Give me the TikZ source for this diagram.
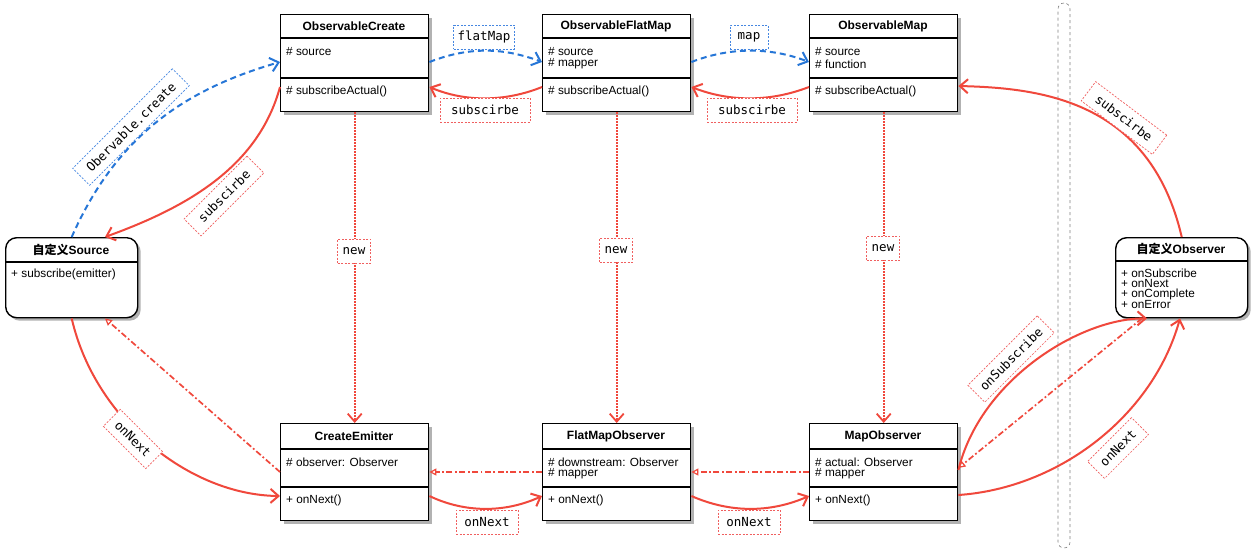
\documentclass[tikz,border=0pt]{standalone}
\usepackage{fontspec}
\setmainfont{Liberation Sans}
\setmonofont{DejaVu Sans Mono}
\newfontfamily\cjk{Noto Sans CJK SC}
\usetikzlibrary{arrows.meta,shadows}
\definecolor{ered}{RGB}{240,72,60}
\definecolor{eblue}{RGB}{38,118,215}
\definecolor{lred}{RGB}{240,95,95}
\definecolor{lblue}{RGB}{70,135,225}
\begin{document}
\begin{tikzpicture}[x=1pt,y=-1pt,
  >={Straight Barb[length=8pt,width=14pt]},
  cls/.style={draw=black, line width=1.4pt, fill=white, anchor=north west,
    minimum width=148pt, minimum height=97pt, inner sep=0pt,
    drop shadow={shadow xshift=3pt,shadow yshift=-3pt,fill=black,opacity=0.3}},
  rcls/.style={cls, rounded corners=11pt, minimum width=132pt, minimum height=80pt},
  ttl/.style={font=\fontsize{12}{13}\selectfont\bfseries, inner sep=0pt},
  txt/.style={font=\fontsize{11.8}{13}\selectfont, anchor=west, inner sep=0pt},
  hd/.style={line width=1.2pt},
  lbl/.style={font=\fontsize{12.5}{14}\selectfont\ttfamily, draw=lred, line width=0.7pt,
    dash pattern=on 2pt off 1.5pt, fill=white, inner xsep=4pt, inner ysep=0pt,
    minimum height=24pt},
  blbl/.style={lbl, draw=lblue},
  rline/.style={draw=ered, line width=2pt, ->},
  bline/.style={draw=eblue, line width=2pt, dash pattern=on 6pt off 4pt, ->},
  dotl/.style={draw=ered, line width=1.8pt, dash pattern=on 1.5pt off 1.5pt, ->},
  ddl/.style={draw=ered, line width=1.7pt, dash pattern=on 6pt off 2.5pt on 1.8pt off 2.5pt,
    -{Triangle[length=7pt,width=7pt,fill=white,line width=1.2pt]}},
]
\fill[white] (0,0) rectangle (1260,550);
\useasboundingbox (0,0) rectangle (1260,550);

% separator
\node[draw=gray, dashed, line width=0.6pt, rounded corners=6pt, minimum width=12pt,
  minimum height=545pt, inner sep=0pt] (sep) at (1064,275.5) {};

% class boxes
\node[cls] (oc) at (280,14) {};
\node[cls] (ofm) at (542,14) {};
\node[cls] (om) at (809,14) {};
\node[cls] (ce) at (280,423) {};
\node[cls] (fmo) at (542,423) {};
\node[cls] (mo) at (809,423) {};
\node[rcls] (src) at (5,237) {};
\node[rcls] (obs) at (1115,237) {};

\foreach \b in {oc,ofm,om}{
  \draw[hd] (\b.west |- 0,38) -- (\b.east |- 0,38);
  \draw[hd] (\b.west |- 0,78) -- (\b.east |- 0,78);
}
\foreach \b in {ce,fmo,mo}{
  \draw[hd] (\b.west |- 0,449) -- (\b.east |- 0,449);
  \draw[hd] (\b.west |- 0,487) -- (\b.east |- 0,487);
}
\draw[hd] (src.west |- 0,262) -- (src.east |- 0,262);
\draw[hd] (obs.west |- 0,261) -- (obs.east |- 0,261);

% titles
\node[ttl] (toc) at (354,26.5) {ObservableCreate};
\node[ttl] (tofm) at (616,26.5) {ObservableFlatMap};
\node[ttl] (tom) at (883,26.5) {ObservableMap};
\node[ttl] (tce) at (354,436.5) {CreateEmitter};
\node[ttl] (tfmo) at (616,436.5) {FlatMapObserver};
\node[ttl] (tmo) at (883,436.5) {MapObserver};
\node[ttl] (tsrc) at (71,250) {{\cjk 自定义}Source};
\node[ttl] (tobs) at (1181,249) {{\cjk 自定义}Observer};

% body texts
\node[txt] (oc1) at (286,52) {\# source};
\node[txt] (oc2) at (286,91) {\# subscribeActual()};
\node[txt] (ofm1) at (548,52) {\# source};
\node[txt] (ofm2) at (548,64) {\# mapper};
\node[txt] (ofm3) at (548,91) {\# subscribeActual()};
\node[txt] (om1) at (815,52) {\# source};
\node[txt] (om2) at (815,64) {\# function};
\node[txt] (om3) at (815,91) {\# subscribeActual()};
\node[txt] (ce1) at (286,462) {\# observer: Observer};
\node[txt] (ce2) at (286,500) {+ onNext()};
\node[txt] (fmo1) at (548,462) {\# downstream: Observer};
\node[txt] (fmo2) at (548,474) {\# mapper};
\node[txt] (fmo3) at (548,500) {+ onNext()};
\node[txt] (mo1) at (815,462) {\# actual: Observer};
\node[txt] (mo2) at (815,474) {\# mapper};
\node[txt] (mo3) at (815,500) {+ onNext()};
\node[txt] (src1) at (11,274) {+ subscribe(emitter)};
\node[txt] (obs1) at (1121,273) {+ onSubscribe};
\node[txt] (obs2) at (1121,283.5) {+ onNext};
\node[txt] (obs3) at (1121,294) {+ onComplete};
\node[txt] (obs4) at (1121,304.5) {+ onError};

% connectors top
\draw[bline] (src.north) .. controls (116,137) and (183,90) .. (oc.west |- 0,62);
\draw[rline] (oc.west |- 0,87) .. controls (258,168) and (185,208) .. (105,0 |- src.north);
\draw[bline] (oc.east |- 0,62) .. controls (468,47) and (502,47) .. (ofm.west |- 0,62);
\draw[rline] (ofm.west |- 0,87) .. controls (505,102) and (465,102) .. (oc.east |- 0,87);
\draw[bline] (ofm.east |- 0,62) .. controls (730,47) and (770,47) .. (om.west |- 0,62);
\draw[rline] (om.west |- 0,87) .. controls (770,102) and (730,102) .. (ofm.east |- 0,87);
\draw[rline] (obs.north) .. controls (1150,100) and (1040,88) .. (om.east |- 0,86);

% new
\draw[dotl] (oc.south) -- (ce.north);
\draw[dotl] (ofm.south) -- (fmo.north);
\draw[dotl] (om.south) -- (mo.north);

% bottom
\draw[rline] (src.south) .. controls (95,420) and (190,495) .. (ce.west |- 0,496);
\draw[ddl] (ce.west |- 0,472) -- (105,0 |- src.south);
\draw[ddl] (fmo.west |- 0,472) -- (ce.east |- 0,472);
\draw[ddl] (mo.west |- 0,472) -- (fmo.east |- 0,472);
\draw[rline] (ce.east |- 0,496) .. controls (465,513) and (505,513) .. (fmo.west |- 0,496);
\draw[rline] (fmo.east |- 0,496) .. controls (730,513) and (770,513) .. (mo.west |- 0,496);
\draw[rline] (mo.east |- 0,470) .. controls (980,380) and (1080,318) .. (1147,0 |- obs.south);
\draw[ddl] (1142,0 |- obs.south) -- (mo.east |- 0,468);
\draw[rline] (mo.east |- 0,495) .. controls (1060,488) and (1153,415) .. (1180,0 |- obs.south);

% labels
\node[blbl] (lfm) at (484,37) {flatMap};
\node[blbl, minimum width=38pt] (lmap) at (749,37) {map};
\node[lbl, minimum width=90pt] (ls1) at (485,110) {subscirbe};
\node[lbl, minimum width=90pt] (ls2) at (752,110) {subscirbe};
\node[lbl, minimum width=33pt] (ln1) at (354,251) {new};
\node[lbl, minimum width=33pt] (ln2) at (616,250) {new};
\node[lbl, minimum width=33pt] (ln3) at (883,248) {new};
\node[lbl, minimum width=62pt] (lon1) at (487,522) {onNext};
\node[lbl, minimum width=62pt] (lon2) at (749,522) {onNext};
\node[blbl, rotate=45, minimum width=141pt] (lcr) at (131,127) {Obervable.create};
\node[lbl, rotate=45, minimum width=89pt] (ls3) at (224,196) {subscirbe};
\node[lbl, rotate=-45, minimum width=60pt] (lon3) at (133,439) {onNext};
\node[lbl, rotate=-37, minimum width=89pt] (ls4) at (1124,118) {subscirbe};
\node[lbl, rotate=45, minimum width=98pt] (lsub) at (1011,359) {onSubscribe};
\node[lbl, rotate=45, minimum width=62pt] (lon4) at (1118,448) {onNext};
\end{tikzpicture}
\end{document}
